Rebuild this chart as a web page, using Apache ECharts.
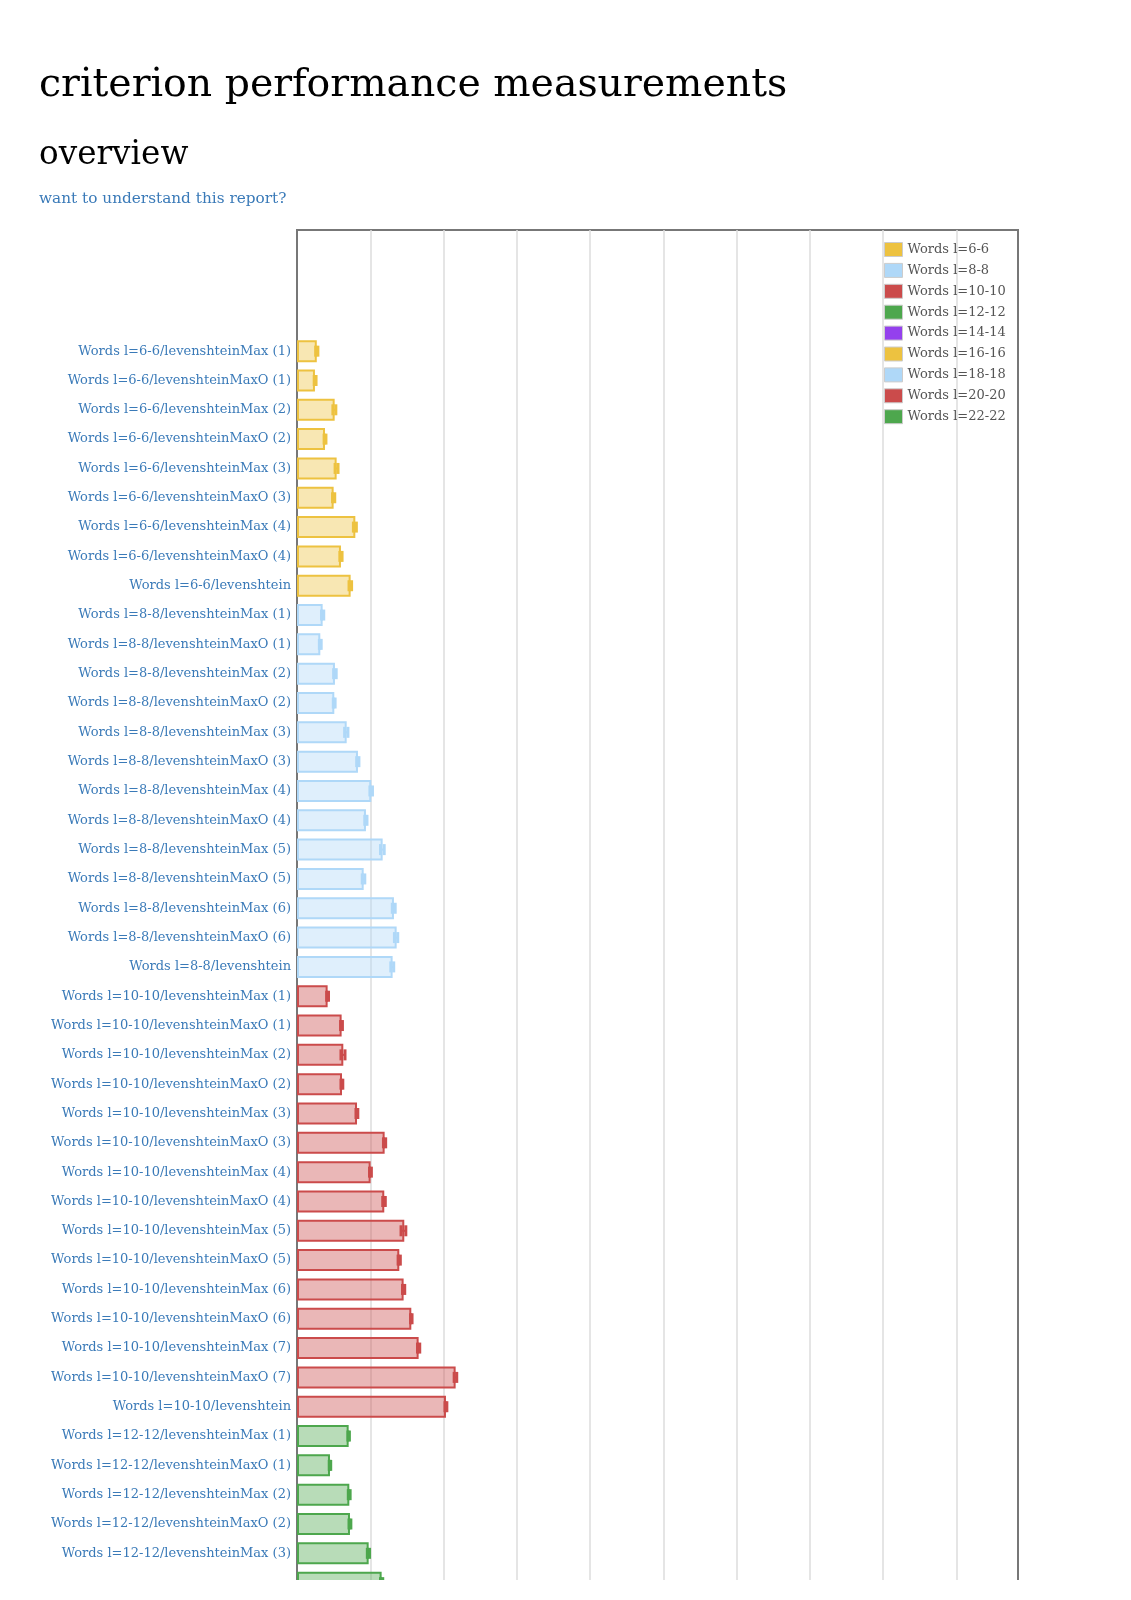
<!DOCTYPE html>
<html><head><meta charset="utf-8">
<script src="https://cdn.jsdelivr.net/npm/echarts@6/dist/echarts.min.js"></script>
<style>
html,body{margin:0;padding:0;background:#fff;width:1131px;height:1600px;overflow:hidden;font-family:'DejaVu Serif',serif;}
#chart{position:absolute;left:0;top:0;width:1131px;height:1580px;}
.t{position:absolute;left:39px;white-space:nowrap;font-weight:normal;}
#h1{top:62px;font-size:39.4px;line-height:40px;color:#000;}
#h2{top:137px;font-size:32.7px;line-height:33px;color:#000;}
#lnk{top:191px;font-size:15.3px;line-height:15px;color:#3a7ab8;}
</style></head><body>
<div id="chart"></div>
<div class="t" id="h1">criterion performance measurements</div>
<div class="t" id="h2">overview</div>
<div class="t" id="lnk">want to understand this report?</div>
<script>
const categories = [
  'Words l=6-6/levenshteinMax (1)','Words l=6-6/levenshteinMaxO (1)',
  'Words l=6-6/levenshteinMax (2)','Words l=6-6/levenshteinMaxO (2)',
  'Words l=6-6/levenshteinMax (3)','Words l=6-6/levenshteinMaxO (3)',
  'Words l=6-6/levenshteinMax (4)','Words l=6-6/levenshteinMaxO (4)',
  'Words l=6-6/levenshtein',
  'Words l=8-8/levenshteinMax (1)','Words l=8-8/levenshteinMaxO (1)',
  'Words l=8-8/levenshteinMax (2)','Words l=8-8/levenshteinMaxO (2)',
  'Words l=8-8/levenshteinMax (3)','Words l=8-8/levenshteinMaxO (3)',
  'Words l=8-8/levenshteinMax (4)','Words l=8-8/levenshteinMaxO (4)',
  'Words l=8-8/levenshteinMax (5)','Words l=8-8/levenshteinMaxO (5)',
  'Words l=8-8/levenshteinMax (6)','Words l=8-8/levenshteinMaxO (6)',
  'Words l=8-8/levenshtein',
  'Words l=10-10/levenshteinMax (1)','Words l=10-10/levenshteinMaxO (1)',
  'Words l=10-10/levenshteinMax (2)','Words l=10-10/levenshteinMaxO (2)',
  'Words l=10-10/levenshteinMax (3)','Words l=10-10/levenshteinMaxO (3)',
  'Words l=10-10/levenshteinMax (4)','Words l=10-10/levenshteinMaxO (4)',
  'Words l=10-10/levenshteinMax (5)','Words l=10-10/levenshteinMaxO (5)',
  'Words l=10-10/levenshteinMax (6)','Words l=10-10/levenshteinMaxO (6)',
  'Words l=10-10/levenshteinMax (7)','Words l=10-10/levenshteinMaxO (7)',
  'Words l=10-10/levenshtein',
  'Words l=12-12/levenshteinMax (1)','Words l=12-12/levenshteinMaxO (1)',
  'Words l=12-12/levenshteinMax (2)','Words l=12-12/levenshteinMaxO (2)',
  'Words l=12-12/levenshteinMax (3)','Words l=12-12/levenshteinMaxO (3)'
];
const seriesNames = ['Words l=6-6','Words l=8-8','Words l=10-10','Words l=12-12','Words l=14-14','Words l=16-16','Words l=18-18','Words l=20-20','Words l=22-22'];
const seriesColors = ['#edc240','#afd8f8','#cb4b4b','#4da74d','#9440ed','#edc240','#afd8f8','#cb4b4b','#4da74d'];

// mean times (axis units = one grid interval)
const values_6_6   = [0.270,0.245,0.514,0.382,0.541,0.500,0.796,0.600,0.732];
const ciLow_6_6    = [0.255,0.235,0.490,0.370,0.520,0.485,0.770,0.585,0.710];
const ciHigh_6_6   = [0.285,0.260,0.530,0.395,0.560,0.515,0.810,0.615,0.745];

const values_8_8   = [0.350,0.318,0.518,0.509,0.678,0.832,1.014,0.941,1.169,0.910,1.323,1.360,1.305];
const ciLow_8_8    = [0.335,0.305,0.500,0.495,0.650,0.815,0.995,0.925,1.140,0.890,1.300,1.330,1.280];
const ciHigh_8_8   = [0.365,0.330,0.535,0.520,0.695,0.845,1.030,0.955,1.190,0.925,1.340,1.375,1.320];

const values_10_10 = [0.418,0.609,0.632,0.614,0.819,1.196,1.005,1.191,1.464,1.396,1.455,1.560,1.660,2.165,2.033];
const ciLow_10_10  = [0.405,0.595,0.600,0.600,0.805,1.180,0.990,1.170,1.420,1.380,1.440,1.550,1.645,2.145,2.020];
const ciHigh_10_10 = [0.430,0.620,0.655,0.625,0.830,1.210,1.015,1.205,1.485,1.410,1.470,1.570,1.675,2.180,2.045];

const values_12_12 = [0.705,0.450,0.714,0.723,0.978,1.155];
const ciLow_12_12  = [0.695,0.440,0.700,0.710,0.960,1.140];
const ciHigh_12_12 = [0.715,0.460,0.725,0.735,0.990,1.170];

// groups below the visible part of the page
const values_14_14 = [], values_16_16 = [], values_18_18 = [], values_20_20 = [], values_22_22 = [];
const ciLow_rest = [], ciHigh_rest = [];

const groupValues = [values_6_6, values_8_8, values_10_10, values_12_12, values_14_14, values_16_16, values_18_18, values_20_20, values_22_22];
const groupLow = [ciLow_6_6, ciLow_8_8, ciLow_10_10, ciLow_12_12, ciLow_rest, ciLow_rest, ciLow_rest, ciLow_rest, ciLow_rest];
const groupHigh = [ciHigh_6_6, ciHigh_8_8, ciHigh_10_10, ciHigh_12_12, ciHigh_rest, ciHigh_rest, ciHigh_rest, ciHigh_rest, ciHigh_rest];

const X_MAX = 9.84;

function hexA(hex, a){
  const n = parseInt(hex.slice(1),16);
  return 'rgba(' + ((n>>16)&255) + ',' + ((n>>8)&255) + ',' + (n&255) + ',' + a + ')';
}

const series = [];
let offset = 0;
groupValues.forEach((vals, g) => {
  const o = offset;
  const color = seriesColors[g];
  series.push({
    name: seriesNames[g], type: 'bar', stack: 'all',
    xAxisIndex: 1, yAxisIndex: 1,
    barWidth: 22,
    itemStyle: { color: hexA(color, 0.4), borderColor: color, borderWidth: 2 },
    emphasis: { disabled: true },
    data: categories.map((c, i) => (i >= o && i < o + vals.length) ? vals[i - o] : '-')
  });
  if (vals.length) {
    const lo = groupLow[g], hi = groupHigh[g];
    series.push({
      name: 'ci ' + seriesNames[g], type: 'custom',
      xAxisIndex: 1, yAxisIndex: 1, z: 5,
      encode: { x: [0, 1], y: 2 },
      data: vals.map((v, j) => [lo[j], hi[j], o + j]),
      renderItem: function (params, api) {
        const idx = api.value(2);
        const p1 = api.coord([api.value(0), idx]);
        const p2 = api.coord([api.value(1), idx]);
        const h = 11;
        return { type: 'group', children: [
          { type: 'line', shape: { x1: p1[0], y1: p1[1], x2: p2[0], y2: p2[1] }, style: { stroke: color, lineWidth: 2 } },
          { type: 'line', shape: { x1: p1[0], y1: p1[1] - h/2, x2: p1[0], y2: p1[1] + h/2 }, style: { stroke: color, lineWidth: 3 } },
          { type: 'line', shape: { x1: p2[0], y1: p2[1] - h/2, x2: p2[0], y2: p2[1] + h/2 }, style: { stroke: color, lineWidth: 3 } }
        ]};
      }
    });
  }
  offset += vals.length;
});

const chart = echarts.init(document.getElementById('chart'), null, { renderer: 'canvas' });
chart.setOption({
  animation: false,
  grid: [
    { left: 297, top: 230, right: 113, bottom: -20, show: true, borderColor: '#777', borderWidth: 2, backgroundColor: 'transparent', containLabel: false, outerBoundsMode: 'none' },
    { left: 297, top: 336.5, right: 113, bottom: -17.3, containLabel: false, outerBoundsMode: 'none' }
  ],
  xAxis: [
    { type: 'value', gridIndex: 0, min: 0, max: X_MAX, interval: 1,
      axisLine: { show: false }, axisTick: { show: false }, axisLabel: { show: false },
      splitLine: { show: true, showMinLine: false, showMaxLine: false, lineStyle: { color: '#dcdcdc', width: 1.5 } } },
    { type: 'value', gridIndex: 1, min: 0, max: X_MAX, show: false, splitLine: { show: false } }
  ],
  yAxis: [
    { type: 'value', gridIndex: 0, show: false, splitLine: { show: false } },
    { type: 'category', gridIndex: 1, inverse: true, data: categories,
      axisLine: { show: false }, axisTick: { show: false }, splitLine: { show: false },
      axisLabel: { color: '#3a7ab8', fontSize: 13, fontFamily: 'DejaVu Serif', margin: 6,
        interval: function (index) { return index < categories.length - 1; } } }
  ],
  legend: {
    orient: 'vertical', left: 879, top: 237,
    itemWidth: 18, itemHeight: 14, itemGap: 5.9, icon: 'rect', selectedMode: false,
    textStyle: { color: '#545454', fontSize: 13, fontFamily: 'DejaVu Serif' },
    data: seriesNames.map((n, i) => ({ name: n, itemStyle: { color: seriesColors[i], borderColor: '#ccc', borderWidth: 1 } }))
  },
  series: series
});
</script>
</body></html>
